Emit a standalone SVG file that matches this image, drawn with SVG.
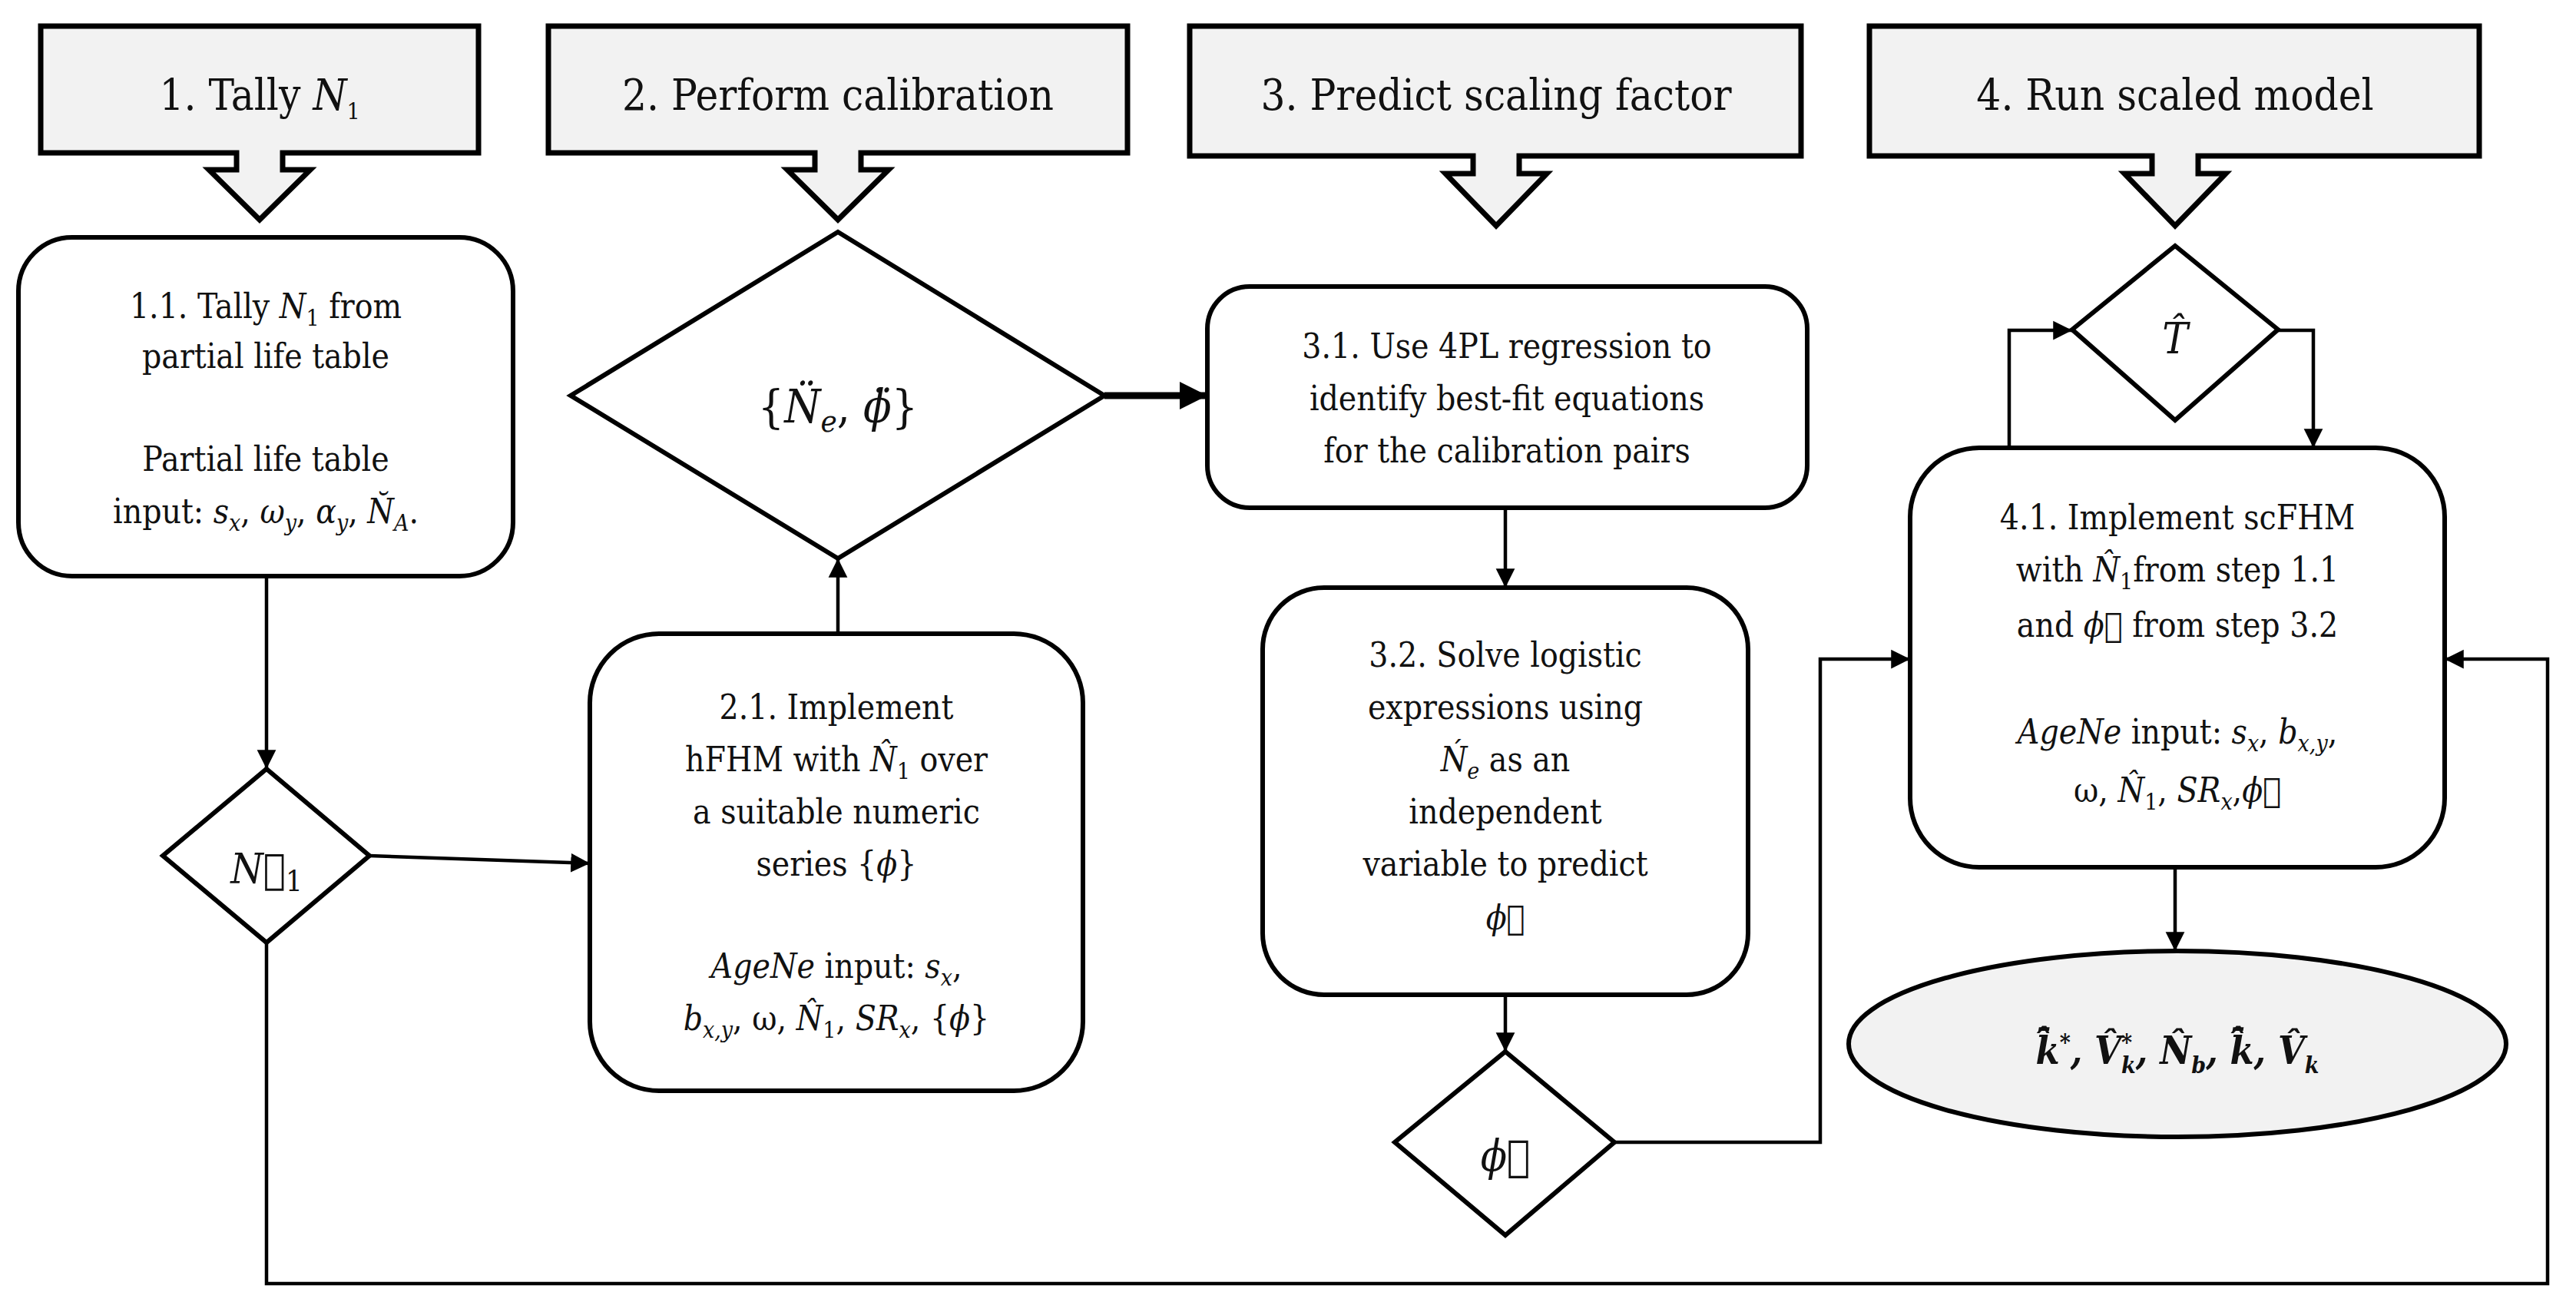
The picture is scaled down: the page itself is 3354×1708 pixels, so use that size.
<svg xmlns="http://www.w3.org/2000/svg" width="3354" height="1708" viewBox="0 0 3354 1708">
<defs>
<style>
text{font-family:"DejaVu Serif Condensed","DejaVu Serif",serif;font-size:44px;fill:#111;text-anchor:middle}
.h{font-size:56px}
.i{font-style:italic}
.s{font-size:30px;font-style:italic}
.sn{font-size:30px}
.node{fill:#fff;stroke:#000;stroke-width:6}
.hd{fill:#f2f2f2;stroke:#000;stroke-width:7}
.c{fill:none;stroke:#000;stroke-width:4.5}
.ct{fill:none;stroke:#000;stroke-width:9}
</style>
<marker id="a" viewBox="0 0 10 10" refX="10" refY="5" markerWidth="5.5" markerHeight="8" markerUnits="strokeWidth" orient="auto"><path d="M0 0L10 5L0 10Z"/></marker>
<marker id="at" viewBox="0 0 10 10" refX="10" refY="5" markerWidth="4" markerHeight="4.5" markerUnits="strokeWidth" orient="auto"><path d="M0 0L10 5L0 10Z"/></marker>
</defs>
<g id="h1"><path class="hd" d="M53 34H623V199H368V221H404L338 286L272 221H308V199H53Z"/><text class="h" x="338" y="143">1. Tally <tspan class="i">N</tspan><tspan class="sn" dy="12">1</tspan></text></g>
<g id="h2"><path class="hd" d="M714 34H1468V199H1121V221H1157L1091 286L1025 221H1061V199H714Z"/><text class="h" x="1091" y="143">2. Perform calibration</text></g>
<g id="h3"><path class="hd" d="M1549 34H2345V203H1978V226H2014L1948 294L1882 226H1918V203H1549Z"/><text class="h" x="1948" y="143">3. Predict scaling factor</text></g>
<g id="h4"><path class="hd" d="M2434 34H3228V203H2862V226H2898L2832 294L2766 226H2802V203H2434Z"/><text class="h" x="2832" y="143">4. Run scaled model</text></g>

<g id="n11"><rect class="node" x="24" y="309" width="644" height="441" rx="70"/>
<text x="346" y="414">1.1. Tally <tspan class="i">N</tspan><tspan class="sn" dy="10">1</tspan><tspan dy="-10"> from</tspan></text>
<text x="346" y="479">partial life table</text>
<text x="346" y="613">Partial life table</text>
<text x="346" y="681">input: <tspan class="i">s</tspan><tspan class="s" dy="10">x</tspan><tspan dy="-10">, </tspan><tspan class="i">ω</tspan><tspan class="s" dy="10">y</tspan><tspan dy="-10">, </tspan><tspan class="i">α</tspan><tspan class="s" dy="10">y</tspan><tspan dy="-10">, </tspan><tspan class="i">N̆</tspan><tspan class="s" dy="10">A</tspan><tspan dy="-10">.</tspan></text></g>

<g id="d2"><path class="node" d="M1091 302L1438 515L1091 727L743 515Z"/><text x="1091" y="550" style="font-size:60px">{<tspan class="i">N̈</tspan><tspan class="s" dy="12" style="font-size:40px">e</tspan><tspan dy="-12">, </tspan><tspan class="i">ϕ̈</tspan>}</text></g>

<g id="n31"><rect class="node" x="1572" y="373" width="781" height="288" rx="55"/>
<text x="1962" y="466">3.1. Use 4PL regression to</text>
<text x="1962" y="534">identify best-fit equations</text>
<text x="1962" y="602">for the calibration pairs</text></g>

<g id="n32"><rect class="node" x="1644" y="765" width="632" height="530" rx="80"/>
<text x="1960" y="868">3.2. Solve logistic</text>
<text x="1960" y="936">expressions using</text>
<text x="1960" y="1004"><tspan class="i">Ń</tspan><tspan class="s" dy="10">e</tspan><tspan dy="-10"> as an</tspan></text>
<text x="1960" y="1072">independent</text>
<text x="1960" y="1140">variable to predict</text>
<text x="1960" y="1210" class="i">ϕ⃗</text></g>

<g id="dN1"><path class="node" d="M347 1001L481 1114L347 1227L212 1114Z"/><text x="347" y="1150" style="font-size:54px"><tspan class="i">N⃗</tspan><tspan class="sn" dy="10" style="font-size:38px">1</tspan></text></g>

<g id="n21"><rect class="node" x="768" y="825" width="642" height="595" rx="90"/>
<text x="1089" y="936">2.1. Implement</text>
<text x="1089" y="1004">hFHM with <tspan class="i">N̂</tspan><tspan class="sn" dy="10">1</tspan><tspan dy="-10"> over</tspan></text>
<text x="1089" y="1072">a suitable numeric</text>
<text x="1089" y="1140">series {<tspan class="i">ϕ</tspan>}</text>
<text x="1089" y="1273"><tspan class="i">AgeNe</tspan> input: <tspan class="i">s</tspan><tspan class="s" dy="10">x</tspan><tspan dy="-10">,</tspan></text>
<text x="1089" y="1341"><tspan class="i">b</tspan><tspan class="s" dy="10">x,y</tspan><tspan dy="-10">, ω, </tspan><tspan class="i">N̂</tspan><tspan class="sn" dy="10">1</tspan><tspan dy="-10">, </tspan><tspan class="i">SR</tspan><tspan class="s" dy="10">x</tspan><tspan dy="-10">, {</tspan><tspan class="i">ϕ</tspan>}</text></g>

<g id="dT"><path class="node" d="M2832 320L2966 429L2832 547L2698 429Z"/><text x="2832" y="460" class="i" style="font-size:56px">T̂</text></g>

<g id="n41"><rect class="node" x="2487" y="583" width="696" height="546" rx="90"/>
<text x="2835" y="689">4.1. Implement scFHM</text>
<text x="2835" y="757">with <tspan class="i">N̂</tspan><tspan class="sn" dy="10">1</tspan><tspan dy="-10">from step 1.1</tspan></text>
<text x="2835" y="829">and <tspan class="i">ϕ⃗</tspan> from step 3.2</text>
<text x="2835" y="968"><tspan class="i">AgeNe</tspan> input: <tspan class="i">s</tspan><tspan class="s" dy="10">x</tspan><tspan dy="-10">, </tspan><tspan class="i">b</tspan><tspan class="s" dy="10">x,y</tspan><tspan dy="-10">,</tspan></text>
<text x="2835" y="1044">ω, <tspan class="i">N̂</tspan><tspan class="sn" dy="10">1</tspan><tspan dy="-10">, </tspan><tspan class="i">SR</tspan><tspan class="s" dy="10">x</tspan><tspan dy="-10">,</tspan><tspan class="i">ϕ⃗</tspan></text></g>

<g id="dphi"><path class="node" d="M1960 1369L2102 1487L1960 1608L1816 1487Z"/><text x="1960" y="1524" class="i" style="font-size:56px">ϕ⃗</text></g>

<g id="out"><ellipse cx="2835" cy="1359" rx="428" ry="121" fill="#f2f2f2" stroke="#000" stroke-width="6"/>
<text x="2835" y="1385" style="font-size:50px;font-weight:bold;font-style:italic">k̂̄<tspan class="s" dy="-18" style="font-weight:bold">*</tspan><tspan dy="18">, </tspan>V̂<tspan dy="-18" class="s" style="font-weight:bold">*</tspan><tspan dx="-14" dy="30" class="s" style="font-weight:bold">k</tspan><tspan dy="-12">, N̂</tspan><tspan class="s" dy="12" style="font-weight:bold">b</tspan><tspan dy="-12">, k̂̄, V̂</tspan><tspan class="s" dy="12" style="font-weight:bold">k</tspan></text></g>

<g id="connectors">
<path class="c" d="M347 750V1001" marker-end="url(#a)"/>
<path class="c" d="M481 1114L768 1124" marker-end="url(#a)"/>
<path class="c" d="M1091 825V727" marker-end="url(#a)"/>
<path class="ct" d="M1438 515H1572" marker-end="url(#at)"/>
<path class="c" d="M1960 661V765" marker-end="url(#a)"/>
<path class="c" d="M1960 1295V1369" marker-end="url(#a)"/>
<path class="c" d="M2102 1487H2370V858H2487" marker-end="url(#a)"/>
<path class="c" d="M2616 583V430H2698" marker-end="url(#a)"/>
<path class="c" d="M2966 430H3012V583" marker-end="url(#a)"/>
<path class="c" d="M2832 1129V1238" marker-end="url(#a)"/>
<path class="c" d="M347 1227V1671H3317V858H3183" marker-end="url(#a)"/>
</g>
</svg>
